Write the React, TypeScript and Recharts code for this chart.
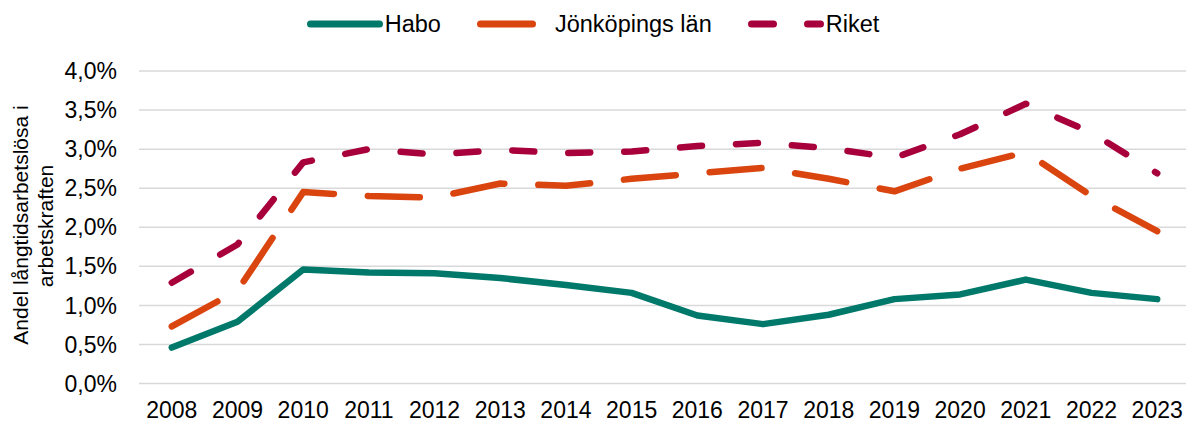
import React from "react";
import { LineChart, Line, XAxis, YAxis, CartesianGrid } from "recharts";

const years = ["2008","2009","2010","2011","2012","2013","2014","2015","2016","2017","2018","2019","2020","2021","2022","2023"];
const habo = [0.46,0.79,1.46,1.42,1.41,1.35,1.26,1.16,0.87,0.76,0.88,1.08,1.14,1.33,1.16,1.08];
const jonkoping = [0.73,1.19,2.45,2.40,2.38,2.56,2.53,2.62,2.69,2.76,2.62,2.46,2.75,2.96,2.40,1.95];
const riket = [1.29,1.78,2.83,3.00,2.93,2.99,2.95,2.97,3.04,3.08,3.01,2.89,3.19,3.58,3.21,2.69];
const yTicks = [0,0.5,1,1.5,2,2.5,3,3.5,4];

const series = [
  { key: "habo", name: "Habo", color: "#00796B", dash: undefined as string | undefined, values: habo },
  { key: "jonkoping", name: "Jönköpings län", color: "#D9440F", dash: "52 34", values: jonkoping },
  { key: "riket", name: "Riket", color: "#A8003B", dash: "22 34", values: riket },
];

const data = years.map((y, i) => ({
  year: y,
  habo: habo[i],
  jonkoping: jonkoping[i],
  riket: riket[i],
}));

const FONT = '"Liberation Sans", Arial, sans-serif';
const fmt = (v: number) => v.toFixed(1).replace(".", ",") + "%";

const YLabel = () => (
  <g fontFamily={FONT} fontSize={21} fill="#000">
    <text x={28} y={225} transform="rotate(-90 28 225)" textAnchor="middle">
      Andel långtidsarbetslösa i
    </text>
    <text x={53} y={226} transform="rotate(-90 53 226)" textAnchor="middle">
      arbetskraften
    </text>
  </g>
);

const LegendBox = () => (
  <div
    style={{
      position: "absolute",
      top: 7,
      left: 0,
      width: 1186,
      display: "flex",
      justifyContent: "center",
      alignItems: "center",
      gap: 36,
      fontFamily: FONT,
      fontSize: 23.5,
      color: "#000",
      height: 34,
    }}
  >
    {series.map((s) => (
      <div key={s.key} style={{ display: "flex", alignItems: "center" }}>
        <svg width={76} height={12} style={{ display: "block" }}>
          <line
            x1={3.5}
            y1={6}
            x2={72.5}
            y2={6}
            stroke={s.color}
            strokeWidth={7}
            strokeLinecap="round"
            strokeDasharray={s.dash}
          />
        </svg>
        <span style={{ marginLeft: 2, lineHeight: "34px" }}>{s.name}</span>
      </div>
    ))}
  </div>
);

export default function App() {
  return (
    <div style={{ position: "absolute", left: 0, top: 0, width: 1186, height: 423, overflow: "hidden", background: "#fff" }}>
      <LegendBox />
      <div style={{ position: "absolute", left: 0, top: 0 }}>
        <LineChart
          width={1190}
          height={423}
          data={data}
          margin={{ top: 71, right: 0, left: 0, bottom: 0 }}
        >
          <CartesianGrid vertical={false} stroke="#D9D9D9" strokeWidth={1.5} />
          <XAxis
            dataKey="year"
            axisLine={false}
            tickLine={false}
            height={39.5}
            padding={{ left: 32.8, right: 32.8 }}
            tickMargin={12}
            interval={0}
            tick={{ fontFamily: FONT, fontSize: 23, fill: "#000" }}
          />
          <YAxis
            width={139}
            domain={[0, 4]}
            ticks={yTicks}
            interval={0}
            axisLine={false}
            tickLine={false}
            tickMargin={16}
            tickFormatter={fmt}
            tick={{ fontFamily: FONT, fontSize: 23, fill: "#000" }}
            label={<YLabel />}
          />
          {series.map((s) => (
            <Line
              key={s.key}
              dataKey={s.key}
              name={s.name}
              stroke={s.color}
              strokeWidth={6.5}
              strokeLinecap="round"
              strokeLinejoin="round"
              strokeDasharray={s.dash}
              dot={false}
              activeDot={false}
              isAnimationActive={false}
            />
          ))}
        </LineChart>
      </div>
    </div>
  );
}
